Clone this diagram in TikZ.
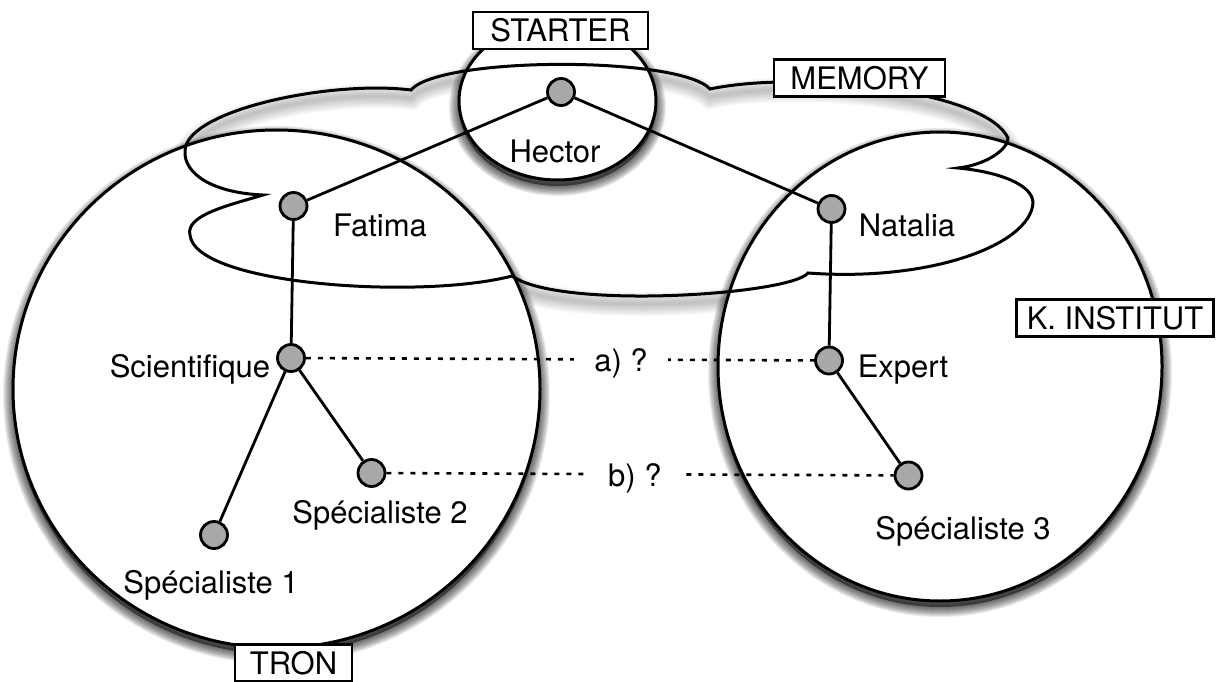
\documentclass[tikz,border=0pt]{standalone}
\usepackage{fontspec}
\setmainfont{TeX Gyre Heros}
\definecolor{dotgray}{RGB}{168,168,168}
\newcommand\softshade[2]{%
  \begin{scope}[yshift=-#1pt]
    \fill[black, opacity=0.5] #2;
    \foreach \w in {2,4,...,20}{\draw[black, opacity=0.075, line width=\w pt] #2;}
  \end{scope}}
\begin{document}
\begin{tikzpicture}[x=1pt,y=-1pt,
  every node/.style={font=\fontsize{31}{36}\selectfont},
  conn/.style={line width=2.8pt, line join=round},
  outline/.style={line width=3pt},
  dotnode/.style={circle, draw, line width=2.8pt, fill=dotgray, minimum size=27pt, inner sep=0pt},
  lbl/.style={anchor=base, inner sep=0pt},
  tag/.style={draw, line width=2.4pt, fill=white, minimum height=37pt, inner sep=0pt},
  query/.style={dash pattern=on 5pt off 7pt, line width=2.6pt},
  qlabel/.style={fill=white, inner xsep=20pt, inner ysep=3pt}
]
\def\tronpath{(276.5,389) ellipse [x radius=263.5, y radius=259]}
\def\kpath{(940,366.5) ellipse [x radius=222, y radius=234.5]}
\def\startpath{(557.5,101) ellipse [x radius=98.5, y radius=79]}
\def\cloudpath{(411,90) .. controls (440,56) and (680,56) .. (710,89)
  .. controls (800,70) and (985,90) .. (1008,138)
  .. controls (1008,150) and (985,165) .. (958,168)
  .. controls (1000,172) and (1033,185) .. (1033,203)
  .. controls (1030,245) and (930,282) .. (808,273)
  .. controls (790,295) and (560,310) .. (512,276)
  .. controls (420,300) and (195,285) .. (190,235)
  .. controls (185,215) and (230,205) .. (263,195)
  .. controls (215,193) and (183,175) .. (185,150)
  .. controls (188,110) and (330,80) .. (411,90) -- cycle}

\useasboundingbox (0,0) rectangle (1229,682);
\fill[white] (0,0) rectangle (1229,682);

% shadows
\begin{scope}[yshift=-8pt]
  \foreach \w in {3,6,...,24}{\draw[black, opacity=0.03, line width=\w pt] \cloudpath;}
\end{scope}
\softshade{6}{\tronpath}
\softshade{6}{\kpath}
\softshade{6}{\startpath}

% fills
\fill[white] \tronpath;
\fill[white] \kpath;
\fill[white] \startpath;

% outlines
\draw[outline] \cloudpath;
\draw[outline] \tronpath;
\draw[outline] \kpath;
\draw[outline] \startpath;

% people
\node[dotnode] (hec) at (561,92) {};
\node[dotnode] (fat) at (293.5,206) {};
\node[dotnode] (nat) at (831.5,209) {};
\node[dotnode] (sci) at (291,358) {};
\node[dotnode] (sp1) at (214,535) {};
\node[dotnode] (sp2) at (371.5,473) {};
\node[dotnode] (exp) at (829,360.5) {};
\node[dotnode] (sp3) at (908.5,475.5) {};

\draw[conn] (hec) -- (fat);
\draw[conn] (hec) -- (nat);
\draw[conn] (fat) -- (sci);
\draw[conn] (sci) -- (sp1);
\draw[conn] (sci) -- (sp2);
\draw[conn] (nat) -- (exp);
\draw[conn] (exp) -- (sp3);

\draw[query] (sci) -- node[qlabel, pos=0.62, yshift=-4pt] (qa) {a) ?} (exp);
\draw[query] (sp2) -- node[qlabel, pos=0.49, yshift=-4pt] (qb) {b) ?} (sp3);

% names
\node[lbl] (hecl) at (555,162) {Hector};
\node[lbl] (fatl) at (380,236) {Fatima};
\node[lbl] (natl) at (907,236) {Natalia};
\node[lbl] (scil) at (190,377) {Scientifique};
\node[lbl] (expl) at (903,377) {Expert};
\node[lbl] (sp1l) at (211,593) {Spécialiste 1};
\node[lbl] (sp2l) at (380,523) {Spécialiste 2};
\node[lbl] (sp3l) at (963,539) {Spécialiste 3};

% tags
\node[tag, minimum width=175pt] (tstart) at (560.5,30.5) {STARTER};
\node[tag, minimum width=171pt] (tmem) at (859.5,78) {MEMORY};
\node[tag, minimum width=197pt] (tkin) at (1115,318) {K. INSTITUT};
\node[tag, minimum width=117pt] (ttron) at (293.5,663) {TRON};
\end{tikzpicture}
\end{document}
